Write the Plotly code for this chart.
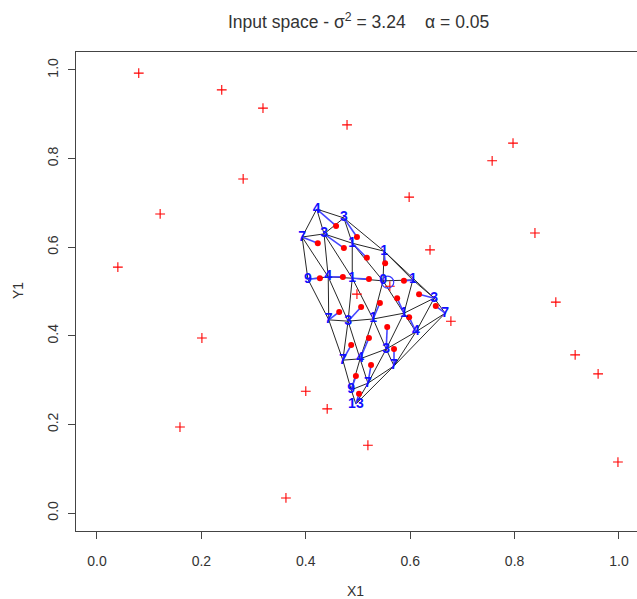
import plotly.graph_objects as go

# Input data points (red +)
data_x = [0.080, 0.239, 0.318, 0.479, 0.280, 0.121, 0.040, 0.201, 0.159, 0.400,
          0.441, 0.362, 0.519, 0.598, 0.638, 0.757, 0.797, 0.839, 0.879, 0.916,
          0.960, 0.998, 0.678, 0.498, 0.561]
data_y = [0.993, 0.955, 0.914, 0.876, 0.754, 0.675, 0.555, 0.395, 0.194, 0.275,
          0.235, 0.034, 0.153, 0.713, 0.594, 0.795, 0.835, 0.632, 0.476, 0.357,
          0.314, 0.115, 0.433, 0.494, 0.512]

# Network nodes (label positions) and hit counts
node_x = [0.421, 0.473, 0.393, 0.435, 0.489, 0.550, 0.404, 0.443, 0.489, 0.548,
          0.605, 0.646, 0.667, 0.444, 0.481, 0.529, 0.588, 0.611, 0.504, 0.554,
          0.471, 0.569, 0.519, 0.487, 0.496]
node_y = [0.686, 0.666, 0.623, 0.630, 0.609, 0.591, 0.528, 0.533, 0.530, 0.524,
          0.526, 0.485, 0.451, 0.436, 0.433, 0.438, 0.451, 0.409, 0.348, 0.370,
          0.345, 0.332, 0.293, 0.278, 0.246]
node_count = [4, 3, 7, 3, 1, 1, 9, 4, 1, 0,
              1, 3, 7, 7, 3, 1, 1, 4, 4, 3,
              7, 7, 7, 9, 13]

# Mean of captured inputs (red dots); None where the node captured nothing
proto_x = [0.458, 0.498, 0.423, 0.473, 0.517, 0.552, 0.427, 0.471, 0.521, None,
           0.588, 0.617, 0.649, 0.464, 0.506, 0.542, 0.575, 0.598, 0.521, 0.556,
           0.487, 0.569, 0.525, 0.496, 0.502]
proto_y = [0.648, 0.623, 0.609, 0.598, 0.576, 0.564, 0.530, 0.533, 0.528, None,
           0.524, 0.494, 0.467, 0.454, 0.465, 0.474, 0.485, 0.442, 0.395, 0.420,
           0.379, 0.370, 0.334, 0.309, 0.269]

# Triangles of the network topology (1-based node indices)
triangles = [(1, 2, 4), (1, 3, 4), (2, 4, 5), (2, 5, 6),
             (3, 7, 8), (3, 4, 8), (4, 8, 9), (4, 5, 9), (5, 9, 10), (5, 6, 10),
             (6, 10, 11), (6, 11, 12),
             (7, 8, 14), (8, 14, 15), (8, 9, 15), (9, 15, 16), (9, 10, 16),
             (10, 16, 17), (10, 11, 17), (11, 12, 17), (12, 17, 18), (12, 13, 18),
             (14, 15, 21), (15, 19, 21), (15, 16, 19), (16, 19, 20), (16, 17, 20),
             (17, 18, 20), (18, 20, 22), (13, 18, 22),
             (19, 20, 23), (20, 22, 23), (19, 21, 24), (19, 23, 24), (23, 24, 25),
             (22, 23, 25)]

# highlighted point (blue circle)
mark_x = [0.557]
mark_y = [0.521]

ticks = [0.0, 0.2, 0.4, 0.6, 0.8, 1.0]
tick_text = ["0.0", "0.2", "0.4", "0.6", "0.8", "1.0"]

FONT = "Liberation Sans, Arial, sans-serif"

# edges
edges = set()
for t in triangles:
    for a, b in ((t[0], t[1]), (t[1], t[2]), (t[0], t[2])):
        edges.add((min(a, b), max(a, b)))
ex, ey = [], []
for a, b in sorted(edges):
    ex += [node_x[a - 1], node_x[b - 1], None]
    ey += [node_y[a - 1], node_y[b - 1], None]

lx, ly = [], []
for i in range(len(node_x)):
    if proto_x[i] is None:
        continue
    lx += [node_x[i], proto_x[i], None]
    ly += [node_y[i], proto_y[i], None]

fig = go.Figure()
fig.add_trace(go.Scatter(x=ex, y=ey, mode="lines",
                         line=dict(color="#262626", width=1), hoverinfo="skip"))
fig.add_trace(go.Scatter(x=lx, y=ly, mode="lines",
                         line=dict(color="#4646ff", width=1.6), hoverinfo="skip"))
fig.add_trace(go.Scatter(x=proto_x, y=proto_y, mode="markers",
                         marker=dict(color="red", size=6, line=dict(width=0))))
fig.add_trace(go.Scatter(x=data_x, y=data_y, mode="markers",
                         marker=dict(symbol="cross-thin", size=7, color="red",
                                     line=dict(color="red", width=1.1))))
fig.add_trace(go.Scatter(x=mark_x, y=mark_y, mode="markers",
                         marker=dict(symbol="circle-open", size=12, color="#3a3aff",
                                     line=dict(color="#3a3aff", width=1.2))))
fig.add_trace(go.Scatter(x=node_x, y=node_y, mode="text",
                         text=["<b>%d</b>" % c for c in node_count],
                         textposition="middle center",
                         textfont=dict(family=FONT, size=14, color="#1010ff")))

axis_common = dict(
    showgrid=False, zeroline=False, showline=True, linecolor="#444", linewidth=1,
    ticks="outside", ticklen=7, tickcolor="#444", tickwidth=1,
    tickvals=ticks, ticktext=tick_text,
    tickfont=dict(family=FONT, size=14, color="#333"),
)
fig.update_xaxes(range=[-0.0402, 1.0345], mirror=True, ticklabelstandoff=10,
                 **axis_common)
fig.update_yaxes(range=[-0.0406, 1.0406], mirror=False, tickangle=-90,
                 ticklabelstandoff=4, **axis_common)

NB = "\u00a0"
fig.update_layout(
    width=637, height=599,
    margin=dict(l=76, r=0, t=52, b=68),
    paper_bgcolor="white", plot_bgcolor="white",
    showlegend=False,
    annotations=[
        dict(text="Input space - σ<sup>2</sup> = 3.24" + NB * 4 + "α = 0.05",
             x=0.503, y=1.065, xref="paper", yref="paper", showarrow=False,
             xanchor="center", yanchor="middle",
             font=dict(family=FONT, size=17.5, color="#333")),
        dict(text="X1", x=0.499, y=-0.125, xref="paper", yref="paper",
             showarrow=False, xanchor="center", yanchor="middle",
             font=dict(family=FONT, size=14, color="#333")),
        dict(text="Y1", x=-0.1034, y=0.503, xref="paper", yref="paper",
             showarrow=False, xanchor="center", yanchor="middle", textangle=-90,
             font=dict(family=FONT, size=14, color="#333")),
    ],
)

fig.write_html("out.html")
